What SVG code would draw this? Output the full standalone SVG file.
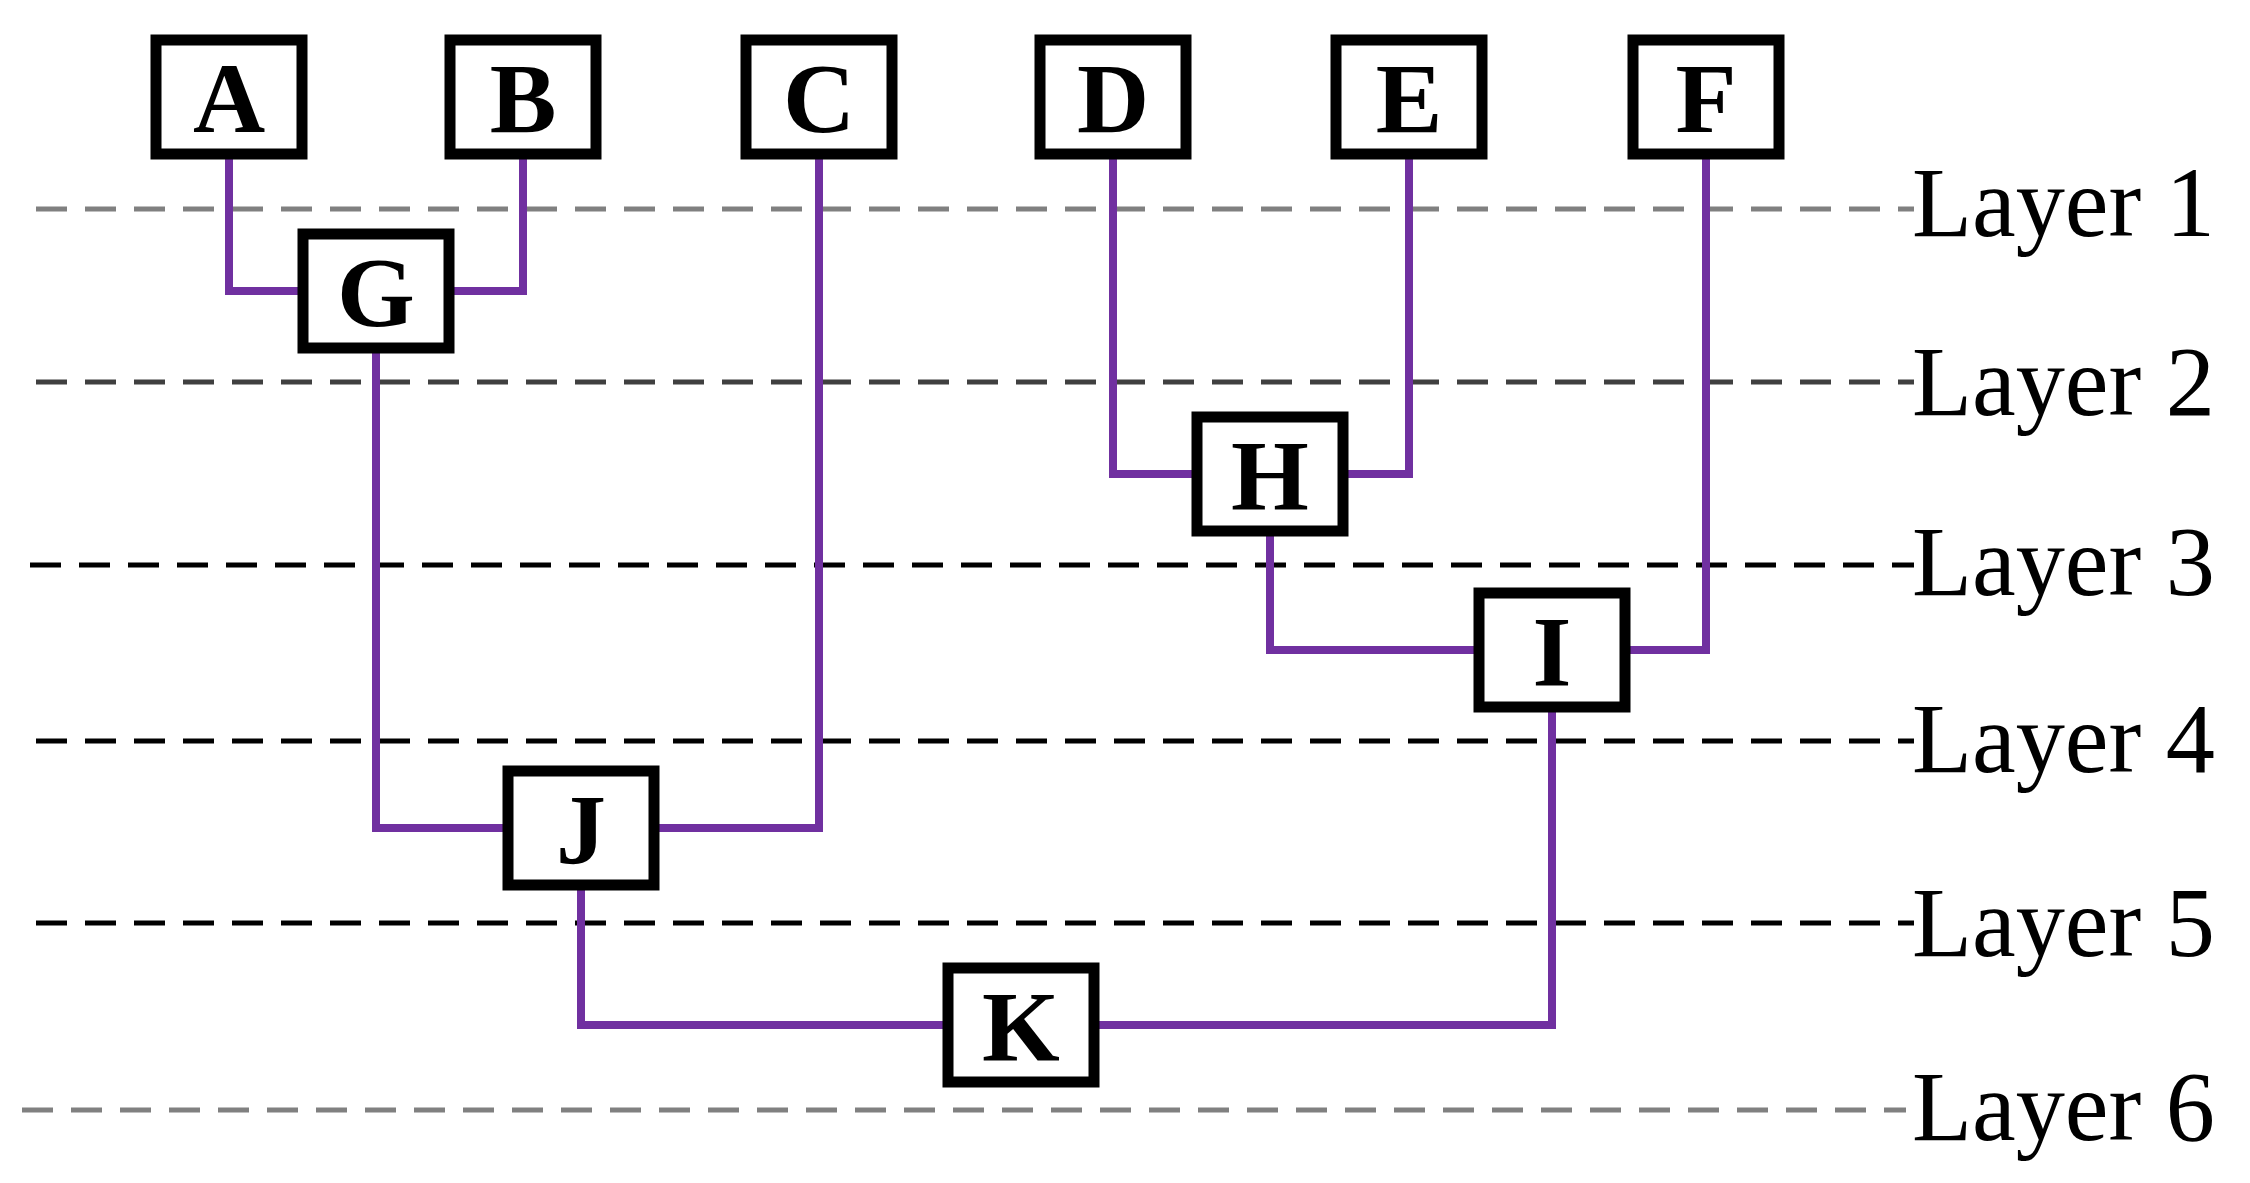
<svg xmlns="http://www.w3.org/2000/svg" width="2250" height="1183" viewBox="0 0 2250 1183">
<style>
.box{fill:#fff;stroke:#000;stroke-width:11}
.lt{font-family:"Liberation Serif",serif;font-weight:bold;font-size:100px;text-anchor:middle}
.lay{font-family:"Liberation Serif",serif;font-size:100px}
.c{fill:none;stroke:#7030A0;stroke-width:8}
.d{stroke-width:5;stroke-dasharray:31 18}
</style>
<rect width="2250" height="1183" fill="#fff"/>
<g id="layers">
<line class="d" x1="36" y1="209" x2="1914" y2="209" stroke="#808080"/>
<line class="d" x1="36" y1="382" x2="1914" y2="382" stroke="#404040"/>
<line class="d" x1="30" y1="565" x2="1914" y2="565" stroke="#000"/>
<line class="d" x1="36" y1="741" x2="1914" y2="741" stroke="#000"/>
<line class="d" x1="36" y1="923" x2="1914" y2="923" stroke="#000"/>
<line class="d" x1="22" y1="1110" x2="1906" y2="1110" stroke="#808080"/>
<text class="lay" x="1912" y="236" textLength="303" lengthAdjust="spacingAndGlyphs">Layer 1</text>
<text class="lay" x="1912" y="415" textLength="303" lengthAdjust="spacingAndGlyphs">Layer 2</text>
<text class="lay" x="1912" y="595" textLength="303" lengthAdjust="spacingAndGlyphs">Layer 3</text>
<text class="lay" x="1912" y="772" textLength="303" lengthAdjust="spacingAndGlyphs">Layer 4</text>
<text class="lay" x="1912" y="956" textLength="303" lengthAdjust="spacingAndGlyphs">Layer 5</text>
<text class="lay" x="1912" y="1140" textLength="303" lengthAdjust="spacingAndGlyphs">Layer 6</text>
</g>
<g id="connectors">
<polyline class="c" points="229,154 229,291 303,291"/>
<polyline class="c" points="523,154 523,291 449,291"/>
<polyline class="c" points="376,349 376,828 508,828"/>
<polyline class="c" points="819,154 819,828 654,828"/>
<polyline class="c" points="1113,154 1113,474 1197,474"/>
<polyline class="c" points="1409,154 1409,474 1343,474"/>
<polyline class="c" points="1270,532 1270,650 1479,650"/>
<polyline class="c" points="1706,154 1706,650 1625,650"/>
<polyline class="c" points="581,886 581,1025 948,1025"/>
<polyline class="c" points="1552,708 1552,1025 1094,1025"/>
</g>
<g id="A"><rect class="box" x="156" y="40" width="146" height="114"/><text class="lt" x="229" y="132">A</text></g>
<g id="B"><rect class="box" x="450" y="40" width="146" height="114"/><text class="lt" x="523" y="132">B</text></g>
<g id="C"><rect class="box" x="746" y="40" width="146" height="114"/><text class="lt" x="819" y="132">C</text></g>
<g id="D"><rect class="box" x="1040" y="40" width="146" height="114"/><text class="lt" x="1113" y="132">D</text></g>
<g id="E"><rect class="box" x="1336" y="40" width="146" height="114"/><text class="lt" x="1409" y="132">E</text></g>
<g id="F"><rect class="box" x="1633" y="40" width="146" height="114"/><text class="lt" x="1706" y="132">F</text></g>
<g id="G"><rect class="box" x="303" y="234" width="146" height="114"/><text class="lt" x="376" y="326">G</text></g>
<g id="H"><rect class="box" x="1197" y="417" width="146" height="114"/><text class="lt" x="1270" y="509">H</text></g>
<g id="I"><rect class="box" x="1479" y="593" width="146" height="114"/><text class="lt" x="1552" y="685">I</text></g>
<g id="J"><rect class="box" x="508" y="771" width="146" height="114"/><text class="lt" x="581" y="863">J</text></g>
<g id="K"><rect class="box" x="948" y="968" width="146" height="114"/><text class="lt" x="1021" y="1060">K</text></g>
</svg>
